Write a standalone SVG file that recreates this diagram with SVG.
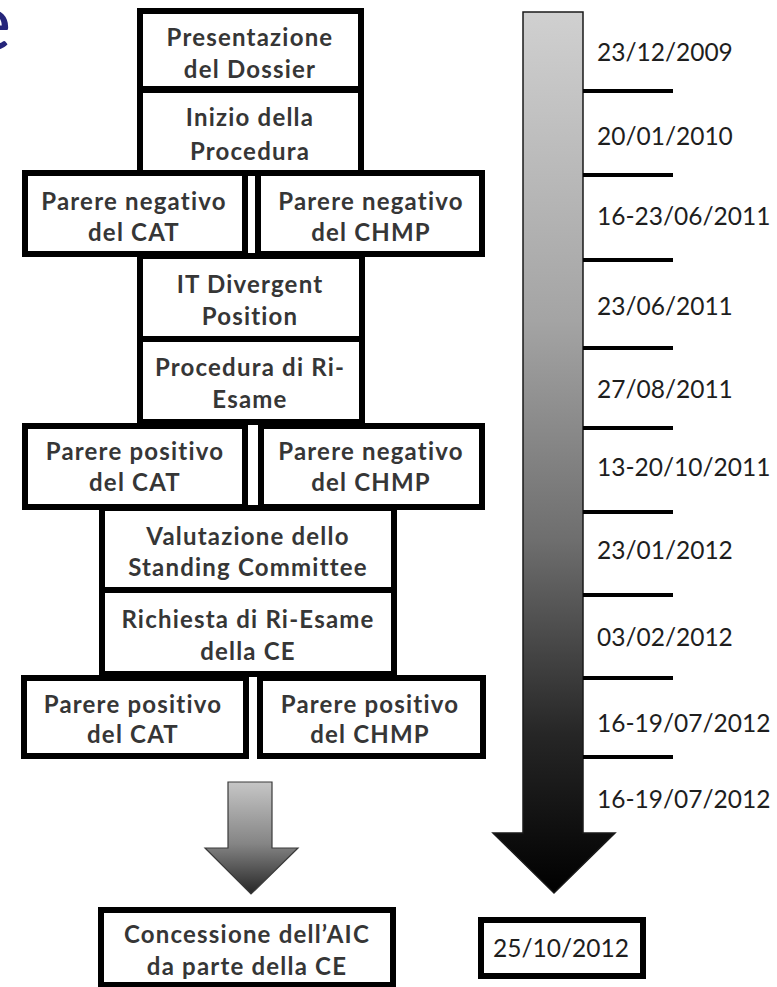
<svg xmlns="http://www.w3.org/2000/svg" width="777" height="987" viewBox="0 0 777 987">
  <style>
    .box { fill: #ffffff; stroke: #000000; stroke-width: 6; }
    .lbl { font-family: Lato, "Open Sans", "Liberation Sans", sans-serif; font-weight: bold; font-size: 24px; letter-spacing: 1.2px; fill: #363636; text-anchor: middle; }
    .date { font-family: Lato, "Open Sans", "Liberation Sans", sans-serif; font-size: 24.5px; fill: #1e1e1e; }
    .tick { stroke: #000000; stroke-width: 4; }
  </style>
  <defs>
    <linearGradient id="timeGrad" gradientUnits="userSpaceOnUse" x1="0" y1="12" x2="0" y2="893">
      <stop offset="0" stop-color="#d0d0d0"/>
      <stop offset="0.35" stop-color="#a4a4a4"/>
      <stop offset="0.6" stop-color="#6e6e6e"/>
      <stop offset="0.82" stop-color="#262626"/>
      <stop offset="1" stop-color="#000000"/>
    </linearGradient>
    <linearGradient id="stepGrad" gradientUnits="userSpaceOnUse" x1="0" y1="782" x2="0" y2="894">
      <stop offset="0" stop-color="#c6c6c6"/>
      <stop offset="0.55" stop-color="#858585"/>
      <stop offset="1" stop-color="#262626"/>
    </linearGradient>
  </defs>

  <rect width="777" height="987" fill="#ffffff"/>

  <!-- slide title fragment -->
  <text x="-31" y="50" font-family="Lato, 'Open Sans', sans-serif" font-size="80" fill="#25257a">é</text>

  <!-- flow steps -->
  <g id="presentazione">
    <rect class="box" x="140" y="11" width="221" height="78"/>
    <text class="lbl" x="250" y="46">Presentazione</text>
    <text class="lbl" x="250" y="78">del Dossier</text>
  </g>
  <g id="inizio">
    <rect class="box" x="140" y="90" width="221" height="83"/>
    <text class="lbl" x="250" y="126">Inizio della</text>
    <text class="lbl" x="250" y="160">Procedura</text>
  </g>
  <g id="neg-cat-1">
    <rect class="box" x="25" y="173" width="220" height="81"/>
    <text class="lbl" x="134" y="210">Parere negativo</text>
    <text class="lbl" x="134" y="241">del CAT</text>
  </g>
  <g id="neg-chmp-1">
    <rect class="box" x="258" y="173" width="224" height="81"/>
    <text class="lbl" x="371" y="210">Parere negativo</text>
    <text class="lbl" x="371" y="241">del CHMP</text>
  </g>
  <g id="divergent">
    <rect class="box" x="140" y="256" width="222" height="83"/>
    <text class="lbl" x="250" y="293">IT Divergent</text>
    <text class="lbl" x="250" y="325">Position</text>
  </g>
  <g id="riesame">
    <rect class="box" x="140" y="339" width="222" height="83"/>
    <text class="lbl" x="250" y="376">Procedura di Ri-</text>
    <text class="lbl" x="250" y="408">Esame</text>
  </g>
  <g id="pos-cat-1">
    <rect class="box" x="25" y="426" width="220" height="81"/>
    <text class="lbl" x="135" y="460">Parere positivo</text>
    <text class="lbl" x="135" y="491">del CAT</text>
  </g>
  <g id="neg-chmp-2">
    <rect class="box" x="261" y="426" width="221" height="81"/>
    <text class="lbl" x="371" y="460">Parere negativo</text>
    <text class="lbl" x="371" y="491">del CHMP</text>
  </g>
  <g id="standing">
    <rect class="box" x="102" y="508" width="292" height="82"/>
    <text class="lbl" x="248" y="545">Valutazione dello</text>
    <text class="lbl" x="248" y="576">Standing Committee</text>
  </g>
  <g id="richiesta">
    <rect class="box" x="102" y="590" width="292" height="84"/>
    <text class="lbl" x="248" y="628">Richiesta di Ri-Esame</text>
    <text class="lbl" x="248" y="660">della CE</text>
  </g>
  <g id="pos-cat-2">
    <rect class="box" x="24" y="678" width="222" height="78"/>
    <text class="lbl" x="133" y="713">Parere positivo</text>
    <text class="lbl" x="133" y="743">del CAT</text>
  </g>
  <g id="pos-chmp">
    <rect class="box" x="260" y="678" width="223" height="78"/>
    <text class="lbl" x="370" y="713">Parere positivo</text>
    <text class="lbl" x="370" y="743">del CHMP</text>
  </g>
  <g id="concessione">
    <rect class="box" x="101" y="910" width="292" height="75"/>
    <text class="lbl" x="247" y="943">Concessione dell’AIC</text>
    <text class="lbl" x="247" y="975">da parte della CE</text>
  </g>
  <g id="data-finale">
    <rect class="box" x="481" y="920" width="162" height="56"/>
    <text class="date" x="561" y="957" text-anchor="middle">25/10/2012</text>
  </g>

  <!-- arrows -->
  <g id="connectors">
    <path d="M228,782 H272 V848 H298 L251,894 L205,848 H228 Z" fill="url(#stepGrad)" stroke="#3a3a3a" stroke-width="1.2"/>
    <path d="M523,12 H583 V833 H615 L554,893 L493,833 H523 Z" fill="url(#timeGrad)" stroke="#1a1a1a" stroke-width="1.5"/>
  </g>

  <!-- timeline ticks and dates -->
  <g id="timeline">
    <line class="tick" x1="583" y1="91" x2="673" y2="91"/>
    <line class="tick" x1="583" y1="175" x2="673" y2="175"/>
    <line class="tick" x1="583" y1="260" x2="673" y2="260"/>
    <line class="tick" x1="583" y1="348" x2="673" y2="348"/>
    <line class="tick" x1="583" y1="428" x2="673" y2="428"/>
    <line class="tick" x1="583" y1="512" x2="673" y2="512"/>
    <line class="tick" x1="583" y1="595" x2="673" y2="595"/>
    <line class="tick" x1="583" y1="678" x2="673" y2="678"/>
    <line class="tick" x1="583" y1="757" x2="673" y2="757"/>
    <text class="date" x="597" y="61">23/12/2009</text>
    <text class="date" x="597" y="145">20/01/2010</text>
    <text class="date" x="597" y="225">16-23/06/2011</text>
    <text class="date" x="597" y="315">23/06/2011</text>
    <text class="date" x="597" y="398">27/08/2011</text>
    <text class="date" x="597" y="476">13-20/10/2011</text>
    <text class="date" x="597" y="559">23/01/2012</text>
    <text class="date" x="597" y="646">03/02/2012</text>
    <text class="date" x="597" y="732">16-19/07/2012</text>
    <text class="date" x="597" y="808">16-19/07/2012</text>
  </g>
</svg>
